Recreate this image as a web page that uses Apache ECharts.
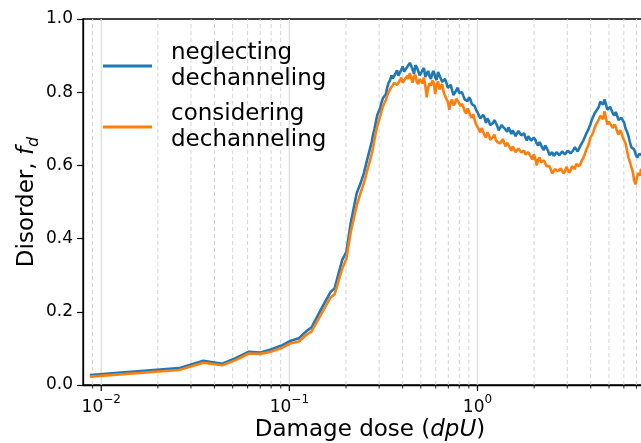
<!DOCTYPE html>
<html>
<head>
<meta charset="utf-8">
<script src="https://cdn.jsdelivr.net/npm/echarts@6/dist/echarts.min.js"></script>
<style>
html,body{margin:0;padding:0;background:#fff;}
#chart{width:641px;height:443px;}
</style>
</head>
<body>
<div id="chart"></div>
<script>
// Damage dose (dpU)
const dose = [
  0.0087, 0.0259, 0.0349, 0.044, 0.0518, 0.061, 0.0703, 0.0796, 0.0918, 0.1017,
  0.1125, 0.1236, 0.131, 0.150, 0.166, 0.174, 0.191, 0.201, 0.212, 0.228,
  0.239, 0.249, 0.259,
  0.269, 0.274, 0.279, 0.2835, 0.288, 0.2935, 0.299, 0.3038, 0.309, 0.3145,
  0.320, 0.3256, 0.331, 0.337, 0.343, 0.3488, 0.355, 0.3611, 0.367, 0.3738,
  0.380, 0.3869, 0.394, 0.4005, 0.407, 0.4146, 0.422, 0.4292, 0.437, 0.4443,
  0.452, 0.4599, 0.468, 0.476, 0.484, 0.4928, 0.501, 0.510, 0.519, 0.528,
  0.537, 0.5464, 0.556, 0.5656, 0.575, 0.5855, 0.596, 0.6061, 0.617, 0.6274,
  0.638, 0.6494, 0.661, 0.6722, 0.684, 0.6959, 0.708, 0.7204, 0.733, 0.7457,
  0.759, 0.772, 0.785, 0.799, 0.813, 0.827, 0.841, 0.8561, 0.871, 0.8863,
  0.902, 0.9173, 0.933, 0.9495, 0.966, 0.9829, 1.000, 1.0174, 1.035, 1.0532,
  1.072, 1.0902, 1.109, 1.1285, 1.148, 1.1682, 1.189, 1.209, 1.230, 1.2515,
  1.274, 1.2954, 1.318, 1.341, 1.365, 1.388, 1.413, 1.437, 1.462, 1.487,
  1.514, 1.540, 1.567, 1.594, 1.622, 1.650, 1.679, 1.708, 1.738, 1.768,
  1.799, 1.830, 1.862, 1.895, 1.928, 1.961, 1.995, 2.030, 2.065, 2.101,
  2.138, 2.175, 2.213, 2.252, 2.291, 2.331, 2.371, 2.413, 2.455, 2.497,
  2.541, 2.585, 2.630, 2.676, 2.723, 2.770, 2.818, 2.867, 2.917, 2.968,
  3.020, 3.072, 3.126, 3.180, 3.236, 3.292, 3.350, 3.407, 3.467, 3.527,
  3.589, 3.652, 3.715, 3.780, 3.846, 3.913, 3.981, 4.050, 4.121, 4.193,
  4.266, 4.340, 4.416, 4.493, 4.571, 4.651, 4.732, 4.814, 4.898, 4.983,
  5.070, 5.159, 5.248, 5.340, 5.433, 5.528, 5.623, 5.722, 5.821, 5.923,
  6.026, 6.131, 6.237, 6.346, 6.457, 6.569, 6.683, 6.800, 6.918, 7.039,
  7.161, 7.286, 7.413, 7.542, 7.674
];
// Disorder f_d, neglecting dechanneling
const neglecting = [
  0.027, 0.046, 0.066, 0.058, 0.073, 0.091, 0.089, 0.097, 0.109, 0.121,
  0.128, 0.148, 0.157, 0.214, 0.255, 0.264, 0.342, 0.364, 0.443, 0.524,
  0.551, 0.579, 0.615,
  0.648, 0.664, 0.685, 0.700, 0.718, 0.738, 0.748, 0.756, 0.772, 0.784,
  0.786, 0.794, 0.812, 0.826, 0.832, 0.846, 0.838, 0.834, 0.852, 0.860,
  0.845, 0.840, 0.862, 0.870, 0.856, 0.852, 0.868, 0.864, 0.880, 0.872,
  0.862, 0.850, 0.874, 0.868, 0.858, 0.846, 0.852, 0.860, 0.866, 0.842,
  0.850, 0.858, 0.844, 0.836, 0.852, 0.858, 0.840, 0.834, 0.855, 0.846,
  0.843, 0.828, 0.830, 0.836, 0.825, 0.812, 0.810, 0.820, 0.805, 0.792,
  0.796, 0.806, 0.812, 0.798, 0.794, 0.800, 0.790, 0.780, 0.778, 0.776,
  0.786, 0.780, 0.768, 0.770, 0.762, 0.752, 0.745, 0.740, 0.728, 0.724,
  0.738, 0.730, 0.716, 0.728, 0.722, 0.710, 0.712, 0.716, 0.724, 0.720,
  0.708, 0.696, 0.702, 0.710, 0.712, 0.702, 0.698, 0.692, 0.704, 0.700,
  0.686, 0.696, 0.694, 0.680, 0.680, 0.694, 0.692, 0.682, 0.684, 0.688,
  0.676, 0.668, 0.680, 0.682, 0.668, 0.664, 0.676, 0.670, 0.660, 0.654,
  0.664, 0.662, 0.648, 0.642, 0.655, 0.652, 0.640, 0.628, 0.632, 0.636,
  0.626, 0.622, 0.636, 0.640, 0.628, 0.626, 0.638, 0.642, 0.630, 0.628,
  0.640, 0.644, 0.633, 0.634, 0.642, 0.650, 0.646, 0.638, 0.640, 0.654,
  0.658, 0.668, 0.672, 0.686, 0.690, 0.702, 0.712, 0.724, 0.728, 0.742,
  0.748, 0.750, 0.760, 0.774, 0.770, 0.766, 0.780, 0.768, 0.752, 0.748,
  0.760, 0.762, 0.742, 0.736, 0.746, 0.744, 0.724, 0.720, 0.730, 0.732,
  0.716, 0.700, 0.692, 0.680, 0.664, 0.650, 0.648, 0.644, 0.632, 0.622,
  0.620, 0.632, 0.630, 0.626, 0.622
];
// Disorder f_d, considering dechanneling
const considering = [
  0.023, 0.041, 0.061, 0.054, 0.068, 0.086, 0.085, 0.091, 0.102, 0.114,
  0.119, 0.138, 0.146, 0.200, 0.240, 0.248, 0.318, 0.345, 0.418, 0.490,
  0.525, 0.552, 0.585,
  0.615, 0.632, 0.650, 0.670, 0.690, 0.708, 0.722, 0.734, 0.748, 0.762,
  0.770, 0.778, 0.790, 0.800, 0.808, 0.812, 0.820, 0.826, 0.830, 0.820,
  0.818, 0.832, 0.840, 0.826, 0.830, 0.838, 0.845, 0.836, 0.852, 0.840,
  0.826, 0.842, 0.848, 0.828, 0.822, 0.836, 0.832, 0.824, 0.840, 0.818,
  0.786, 0.812, 0.825, 0.818, 0.832, 0.826, 0.795, 0.818, 0.830, 0.808,
  0.815, 0.822, 0.800, 0.790, 0.792, 0.774, 0.752, 0.772, 0.780, 0.764,
  0.770, 0.782, 0.786, 0.770, 0.762, 0.768, 0.760, 0.748, 0.742, 0.756,
  0.752, 0.736, 0.730, 0.740, 0.724, 0.712, 0.705, 0.700, 0.690, 0.702,
  0.700, 0.682, 0.676, 0.690, 0.684, 0.670, 0.668, 0.678, 0.684, 0.670,
  0.664, 0.666, 0.660, 0.658, 0.672, 0.660, 0.652, 0.662, 0.664, 0.648,
  0.640, 0.652, 0.650, 0.636, 0.634, 0.646, 0.650, 0.636, 0.640, 0.640,
  0.630, 0.626, 0.636, 0.632, 0.622, 0.616, 0.630, 0.618, 0.600, 0.616,
  0.622, 0.608, 0.604, 0.614, 0.612, 0.598, 0.596, 0.598, 0.588, 0.578,
  0.582, 0.590, 0.594, 0.584, 0.580, 0.592, 0.592, 0.578, 0.584, 0.596,
  0.594, 0.580, 0.586, 0.598, 0.596, 0.590, 0.604, 0.606, 0.598, 0.604,
  0.614, 0.620, 0.630, 0.642, 0.650, 0.660, 0.676, 0.682, 0.690, 0.702,
  0.712, 0.718, 0.726, 0.736, 0.738, 0.726, 0.748, 0.730, 0.712, 0.720,
  0.724, 0.708, 0.702, 0.712, 0.706, 0.692, 0.684, 0.696, 0.690, 0.676,
  0.672, 0.660, 0.640, 0.622, 0.610, 0.596, 0.584, 0.560, 0.548, 0.566,
  0.580, 0.572, 0.590, 0.588, 0.580
];
const seriesNames = ['neglecting\ndechanneling', 'considering\ndechanneling'];
const majorTicks = [0.01, 0.1, 1];
const minorTicks = [0.009, 0.02, 0.03, 0.04, 0.05, 0.06, 0.07, 0.08, 0.09,
  0.2, 0.3, 0.4, 0.5, 0.6, 0.7, 0.8, 0.9, 2, 3, 4, 5, 6, 7, 8, 9];

const FONT = 'DejaVu Sans';
const chart = echarts.init(document.getElementById('chart'), null, {renderer: 'canvas'});

function gridRenderer(major) {
  return function (params, api) {
    const v = api.value(0);
    const top = api.coord([v, 1]);
    const bot = api.coord([v, 0]);
    return {
      type: 'group',
      children: [
        {
          type: 'line',
          shape: {x1: bot[0], y1: bot[1], x2: top[0], y2: top[1]},
          style: major
            ? {stroke: '#dedede', lineWidth: 1.3}
            : {stroke: '#d4d4d4', lineWidth: 1, lineDash: [4, 3]}
        },
        {
          type: 'line',
          shape: {x1: bot[0], y1: bot[1], x2: bot[0], y2: bot[1] + (major ? 6 : 3.5)},
          style: {stroke: '#000', lineWidth: major ? 1.2 : 0.9}
        }
      ]
    };
  };
}

const option = {
  animation: false,
  textStyle: {fontFamily: FONT},
  grid: {
    left: 83, top: 19, width: 574, height: 366,
    show: true, borderColor: '#000', borderWidth: 1.3, backgroundColor: 'transparent',
    outerBoundsMode: 'none'
  },
  legend: {
    data: seriesNames,
    orient: 'vertical',
    left: 103, top: 40,
    padding: 0,
    itemGap: 9,
    itemWidth: 49, itemHeight: 3,
    icon: 'rect',
    textStyle: {fontFamily: FONT, fontSize: 23, lineHeight: 26, color: '#000', padding: [0, 0, 0, 14]}
  },
  xAxis: {
    type: 'log',
    logBase: 10,
    min: 0.008,
    max: 9,
    name: 'Damage dose ({i|dpU})',
    nameLocation: 'middle',
    nameGap: 34,
    nameMoveOverlap: false,
    nameTextStyle: {
      fontFamily: FONT, fontSize: 23, color: '#000',
      rich: {i: {fontFamily: FONT, fontSize: 23, fontStyle: 'italic', color: '#000'}}
    },
    axisLine: {show: true, lineStyle: {color: '#000', width: 1.3}},
    axisTick: {show: false},
    splitLine: {show: false},
    minorTick: {show: false},
    axisLabel: {
      show: true,
      margin: 9,
      hideOverlap: false,
      formatter: function (value) {
        const e = Math.log10(value);
        const r = Math.round(e);
        if (Math.abs(e - r) > 1e-6) return '';
        const s = String(r).replace('-', '\u2212');
        return '{b|10}{s|' + s + '}';
      },
      rich: {
        b: {fontFamily: FONT, fontSize: 17, color: '#000', lineHeight: 22, verticalAlign: 'bottom'},
        s: {fontFamily: FONT, fontSize: 12, color: '#000', lineHeight: 13, verticalAlign: 'top'}
      }
    }
  },
  yAxis: {
    type: 'value',
    min: 0, max: 1, interval: 0.2,
    name: '{n|Disorder, }{i|f}{d|d}',
    nameLocation: 'middle',
    nameGap: 41,
    nameMoveOverlap: false,
    nameRotate: 90,
    nameTextStyle: {
      rich: {
        n: {fontFamily: FONT, fontSize: 23, color: '#000', lineHeight: 30, verticalAlign: 'middle'},
        i: {fontFamily: FONT, fontSize: 23, fontStyle: 'italic', color: '#000', lineHeight: 30, verticalAlign: 'middle'},
        d: {fontFamily: FONT, fontSize: 16, fontStyle: 'italic', color: '#000', lineHeight: 16, verticalAlign: 'bottom'}
      }
    },
    axisLine: {show: true, lineStyle: {color: '#000', width: 1.3}},
    axisTick: {show: true, length: 6, lineStyle: {color: '#000', width: 1.2}},
    splitLine: {show: false},
    axisLabel: {
      fontFamily: FONT, fontSize: 17, color: '#000', margin: 10,
      formatter: function (v) { return v.toFixed(1); }
    }
  },
  series: [
    {
      type: 'custom',
      name: 'major-grid',
      coordinateSystem: 'cartesian2d',
      renderItem: gridRenderer(true),
      data: majorTicks.map(v => [v, 0]),
      silent: true, z: 1, clip: false
    },
    {
      type: 'custom',
      name: 'minor-grid',
      coordinateSystem: 'cartesian2d',
      renderItem: gridRenderer(false),
      data: minorTicks.map(v => [v, 0]),
      silent: true, z: 1, clip: false
    },
    {
      type: 'line',
      name: seriesNames[0],
      data: dose.map((d, i) => [d, neglecting[i]]),
      showSymbol: false, symbol: 'none',
      lineStyle: {color: '#1f77b4', width: 2.6},
      itemStyle: {color: '#1f77b4'},
      z: 3
    },
    {
      type: 'line',
      name: seriesNames[1],
      data: dose.map((d, i) => [d, considering[i]]),
      showSymbol: false, symbol: 'none',
      lineStyle: {color: '#ff7f0e', width: 2.6},
      itemStyle: {color: '#ff7f0e'},
      z: 4
    }
  ]
};
chart.setOption(option);
</script>
</body>
</html>
